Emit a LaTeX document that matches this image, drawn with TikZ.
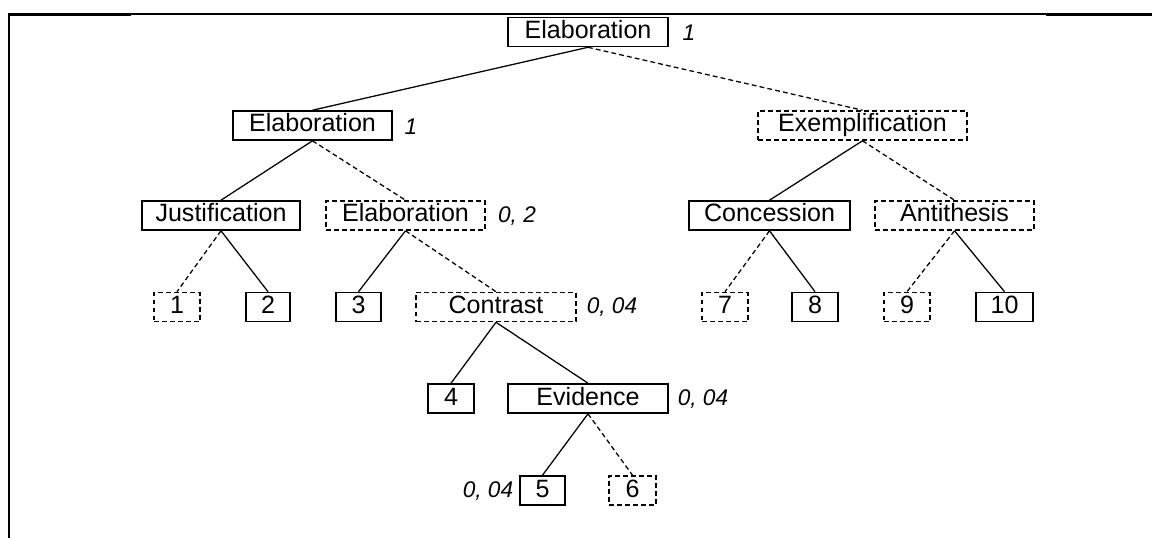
\documentclass[tikz,border=0pt]{standalone}
\usepackage{fontspec}
\setmainfont{Liberation Sans}
\begin{document}
\begin{tikzpicture}[x=0.75pt,y=-0.75pt,
  rel/.style={draw, line width=1.2pt, inner sep=0pt, minimum height=21.75pt,
    text height=13.5pt, text depth=3.75pt,
    font=\fontsize{18.8}{20}\selectfont},
  nuc/.style={rel},
  sat/.style={rel, dash pattern=on 3.6pt off 2.4pt},
  wbox/.style={minimum width=#1*0.75pt},
  weight/.style={font=\fontsize{17}{18}\selectfont\itshape, inner sep=0pt},
  solidedge/.style={line width=0.95pt},
  dashedge/.style={line width=0.95pt, dash pattern=on 3.6pt off 2.4pt}]
\useasboundingbox (0,0) rectangle (1152,538);

% cell border
\draw[line width=1.9pt] (8,14.3) -- (131,14.3);
\draw[line width=1.1pt] (131,13.9) -- (1046,13.9);
\draw[line width=1.9pt] (1046,14.3) -- (1152,14.3);
\draw[line width=2pt] (8.9,13.5) -- (8.9,538);

% relation nodes
\node[nuc, wbox=160] (root)  at (588,32)      {Elaboration};
\node[nuc, wbox=159] (elab1) at (312.5,125.5) {Elaboration};
\node[sat, wbox=209] (exem)  at (862.5,125.5) {Exemplification};
\node[nuc, wbox=158] (just)  at (221,215.5)   {Justification};
\node[sat, wbox=159] (elab2) at (405.5,215.5) {Elaboration};
\node[nuc, wbox=161] (conc)  at (769.5,215.5) {Concession};
\node[sat, wbox=159] (anti)  at (954.5,215.5) {Antithesis};
\node[sat, wbox=160] (contr) at (496,307)     {Contrast};
\node[nuc, wbox=160] (evid)  at (588,398.5)   {Evidence};

% leaf segments
\node[sat, wbox=46] (s1)  at (177,307)    {1};
\node[nuc, wbox=44] (s2)  at (268,307)    {2};
\node[nuc, wbox=45] (s3)  at (358.5,307)  {3};
\node[sat, wbox=46] (s7)  at (725,307)    {7};
\node[nuc, wbox=46] (s8)  at (815,307)    {8};
\node[sat, wbox=46] (s9)  at (907,307)    {9};
\node[nuc, wbox=57] (s10) at (1004.5,307) {10};
\node[nuc, wbox=46] (s4)  at (451,398.5)  {4};
\node[nuc, wbox=45] (s5)  at (542.5,490.5){5};
\node[sat, wbox=47] (s6)  at (632.5,490.5){6};

% weights
\node[weight] (w1) at (689,33)    {1};
\node[weight] (w2) at (411,126.5) {1};
\node[weight] (w3) at (517,216)   {0, 2};
\node[weight] (w4) at (612,307.5) {0, 04};
\node[weight] (w5) at (703,399)   {0, 04};
\node[weight] (w6) at (488,491)   {0, 04};

% tree edges
\draw[solidedge] (root.south)  -- (elab1.north);
\draw[dashedge]  (root.south)  -- (exem.north);
\draw[solidedge] (elab1.south) -- (just.north);
\draw[dashedge]  (elab1.south) -- (elab2.north);
\draw[solidedge] (exem.south)  -- (conc.north);
\draw[dashedge]  (exem.south)  -- (anti.north);
\draw[dashedge]  (just.south)  -- (s1.north);
\draw[solidedge] (just.south)  -- (s2.north);
\draw[solidedge] (elab2.south) -- (s3.north);
\draw[dashedge]  (elab2.south) -- (contr.north);
\draw[dashedge]  (conc.south)  -- (s7.north);
\draw[solidedge] (conc.south)  -- (s8.north);
\draw[dashedge]  (anti.south)  -- (s9.north);
\draw[solidedge] (anti.south)  -- (s10.north);
\draw[solidedge] (contr.south) -- (s4.north);
\draw[solidedge] (contr.south) -- (evid.north);
\draw[solidedge] (evid.south)  -- (s5.north);
\draw[dashedge]  (evid.south)  -- (s6.north);
\end{tikzpicture}
\end{document}
